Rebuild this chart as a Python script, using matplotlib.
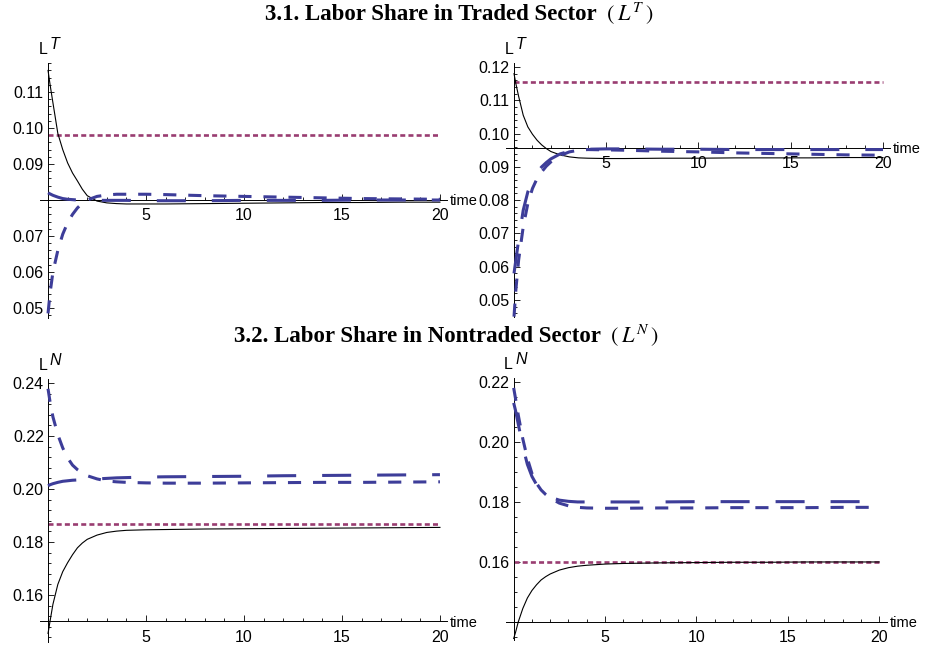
import matplotlib
matplotlib.use("Agg")
import matplotlib.pyplot as plt
from matplotlib.ticker import MultipleLocator, FixedLocator, FormatStrFormatter

plt.rcParams['font.family'] = ['Liberation Sans', 'DejaVu Sans']
plt.rcParams['mathtext.fontset'] = 'stix'

# ---------------- data ----------------
T = [0, 0.1, 0.25, 0.5, 0.75, 1, 1.25, 1.5, 1.75, 2, 2.5, 3, 3.5, 4, 5, 6, 8, 10, 12, 14, 16, 18, 20]

# 3.1 Labor share in traded sector, left panel
tl_solid = [0.1160, 0.1122, 0.1070, 0.0985, 0.0940, 0.0903, 0.0875, 0.0853, 0.0830, 0.0812, 0.0797, 0.0792,
            0.0790, 0.0789, 0.0789, 0.0789, 0.0790, 0.0791, 0.0792, 0.0793, 0.0793, 0.0794, 0.0794]
tl_long = [0.0820, 0.0817, 0.0813, 0.0808, 0.0804, 0.0802, 0.0801, 0.0800, 0.0800, 0.07995, 0.0799, 0.0799,
           0.0799, 0.0799, 0.0798, 0.0798, 0.0798, 0.0799, 0.0799, 0.0799, 0.0800, 0.0800, 0.0800]
tl_med = [0.0485, 0.0540, 0.0600, 0.0660, 0.0705, 0.0737, 0.0760, 0.0778, 0.0791, 0.0800, 0.0810, 0.0814,
          0.0816, 0.0816, 0.0816, 0.0815, 0.0812, 0.0810, 0.0808, 0.0806, 0.0804, 0.0803, 0.0802]
tl_steady = 0.0980

# 3.1 right panel
tr_solid = [0.1180, 0.1150, 0.1112, 0.1055, 0.1020, 0.0998, 0.0980, 0.0966, 0.0955, 0.0946, 0.0936, 0.0930,
            0.0927, 0.0926, 0.0925, 0.0925, 0.0926, 0.0926, 0.0927, 0.0927, 0.0927, 0.0928, 0.0928]
tr_long = [0.0580, 0.0620, 0.0680, 0.0770, 0.0825, 0.0860, 0.0884, 0.0900, 0.0913, 0.0924, 0.0939, 0.0947,
           0.0951, 0.0953, 0.0954, 0.0954, 0.0953, 0.0953, 0.0952, 0.0952, 0.0952, 0.0952, 0.0952]
tr_med = [0.0450, 0.0530, 0.0620, 0.0720, 0.0790, 0.0835, 0.0865, 0.0885, 0.0902, 0.0915, 0.0934, 0.0945,
          0.0950, 0.0952, 0.0951, 0.0950, 0.0947, 0.0945, 0.0942, 0.0940, 0.0938, 0.0936, 0.0935]
tr_steady = 0.1155

# 3.2 Labor share in nontraded sector, left panel
bl_solid = [0.1455, 0.1500, 0.1565, 0.1640, 0.1688, 0.1722, 0.1752, 0.1778, 0.1796, 0.1810, 0.1826, 0.1836,
            0.1841, 0.1844, 0.1846, 0.1847, 0.1849, 0.1850, 0.1851, 0.1852, 0.1853, 0.1854, 0.1855]
bl_med = [0.2378, 0.2330, 0.2272, 0.2205, 0.2155, 0.2117, 0.2090, 0.2073, 0.2060, 0.2050, 0.2038, 0.2030,
          0.2027, 0.2025, 0.2023, 0.2022, 0.2022, 0.2023, 0.2024, 0.2025, 0.2025, 0.2026, 0.2027]
bl_long = [0.2012, 0.2016, 0.2020, 0.2025, 0.2029, 0.2031, 0.2033, 0.2034, 0.2035, 0.2036, 0.2038, 0.2040,
           0.2042, 0.2043, 0.2045, 0.2046, 0.2047, 0.2048, 0.2050, 0.2051, 0.2052, 0.2053, 0.2054]
bl_steady = 0.1868

# 3.2 right panel
br_solid = [0.1345, 0.1365, 0.1400, 0.1445, 0.1480, 0.1505, 0.1524, 0.1540, 0.1551, 0.1560, 0.1573, 0.1581,
            0.1586, 0.1589, 0.1593, 0.1595, 0.1597, 0.1598, 0.1599, 0.1599, 0.1600, 0.1600, 0.1600]
br_med = [0.2180, 0.2145, 0.2090, 0.2010, 0.1945, 0.1895, 0.1862, 0.1840, 0.1825, 0.1813, 0.1796, 0.1787,
          0.1782, 0.1780, 0.1779, 0.1779, 0.1780, 0.1780, 0.1781, 0.1781, 0.1781, 0.1782, 0.1782]
br_long = [0.2130, 0.2105, 0.2060, 0.1985, 0.1925, 0.1885, 0.1858, 0.1838, 0.1825, 0.1816, 0.1806, 0.1802,
           0.1800, 0.1800, 0.1800, 0.1800, 0.1800, 0.1801, 0.1801, 0.1801, 0.1801, 0.1801, 0.1801]
br_steady = 0.1600

x_major = [5, 10, 15, 20]
tl_yticks = [0.05, 0.06, 0.07, 0.09, 0.10, 0.11]
tr_yticks = [0.05, 0.06, 0.07, 0.08, 0.09, 0.10, 0.11, 0.12]
bl_yticks = [0.16, 0.18, 0.20, 0.22, 0.24]
br_yticks = [0.16, 0.18, 0.20, 0.22]

title1 = "3.1. Labor Share in Traded Sector"
title2 = "3.2. Labor Share in Nontraded Sector"

# ---------------- styling ----------------
BLUE = '#3d3d99'
PURPLE = '#993d71'
W, H = 926, 645

fig = plt.figure(figsize=(9.26, 6.45), dpi=100)


def make_panel(rect_px, xlim, ylim, y_cross, yticks, yminor, solid, long_, med, steady, sup):
    l, t, r, b = rect_px
    ax = fig.add_axes([l / W, 1 - b / H, (r - l) / W, (b - t) / H])
    ax.set_xlim(*xlim)
    ax.set_ylim(*ylim)
    ax.patch.set_visible(False)
    for s in ('top', 'right'):
        ax.spines[s].set_visible(False)
    ax.spines['left'].set_position(('data', 0))
    ax.spines['bottom'].set_position(('data', y_cross))
    for s in ('left', 'bottom'):
        ax.spines[s].set_linewidth(0.7)
    ax.xaxis.set_major_locator(FixedLocator(x_major))
    ax.xaxis.set_minor_locator(MultipleLocator(1))
    ax.yaxis.set_major_locator(FixedLocator(yticks))
    ax.yaxis.set_minor_locator(MultipleLocator(yminor))
    ax.yaxis.set_major_formatter(FormatStrFormatter('%.2f'))
    ax.tick_params(which='both', direction='in', width=0.6, labelsize=11.5, colors='black')
    ax.tick_params(which='major', length=4)
    ax.tick_params(which='minor', length=2.5)
    ax.tick_params(axis='x', which='major', pad=6)
    ax.tick_params(axis='y', which='major', pad=3)

    ax.plot(T, solid, color='black', lw=0.8, zorder=3)
    ax.plot([T[0], T[-1]], [steady, steady], color=PURPLE, lw=1.9,
            dashes=(1.9, 1.2), dash_capstyle='butt', zorder=2)
    ax.plot(T, long_, color=BLUE, lw=2.2, dashes=(9.5, 8.5), dash_capstyle='butt', zorder=4)
    ax.plot(T, med, color=BLUE, lw=2.2, dashes=(4.3, 3.9), dash_capstyle='butt', zorder=4)

    yt = ax.get_yaxis_transform()
    # y-axis label L^X at top
    ax.annotate('L', xy=(0, ylim[1]), xycoords='data', xytext=(-0.5, 4), textcoords='offset points',
                ha='right', va='bottom', fontsize=11.5)
    ax.annotate(sup, xy=(0, ylim[1]), xycoords='data', xytext=(1.0, 8), textcoords='offset points',
                ha='left', va='bottom', fontsize=11.5, style='italic')
    # x-axis label "time"
    ax.annotate('time', xy=(1, y_cross), xycoords=yt, xytext=(2, -1), textcoords='offset points',
                ha='left', va='center', fontsize=10.5)
    return ax


make_panel((40, 63, 447, 318), (-0.41, 20.36), (0.04722, 0.11806), 0.08, tl_yticks, 0.002,
           tl_solid, tl_long, tl_med, tl_steady, 'T')
make_panel((506, 63, 890, 317), (-0.434, 20.38), (0.0449, 0.1212), 0.0957, tr_yticks, 0.002,
           tr_solid, tr_long, tr_med, tr_steady, 'T')
make_panel((40, 379, 447, 642), (-0.41, 20.36), (0.14226, 0.2415), 0.15, bl_yticks, 0.004,
           bl_solid, bl_long, bl_med, bl_steady, 'N')
make_panel((506, 378, 887, 640), (-0.42, 20.43), (0.134, 0.2213), 0.14, br_yticks, 0.005,
           br_solid, br_long, br_med, br_steady, 'N')

# titles
fig.text(597 / W, 1 - 15 / H, title1, ha='right', va='center', fontsize=16.5,
         fontweight='bold', family='Liberation Serif')
fig.text(606 / W, 1 - 14 / H, r'$(\;L^{T}\,)$', ha='left', va='center', fontsize=16)
fig.text(601 / W, 1 - 337 / H, title2, ha='right', va='center', fontsize=16.5,
         fontweight='bold', family='Liberation Serif')
fig.text(610 / W, 1 - 336 / H, r'$(\;L^{N}\,)$', ha='left', va='center', fontsize=16)

fig.savefig('out.png', dpi=100)
